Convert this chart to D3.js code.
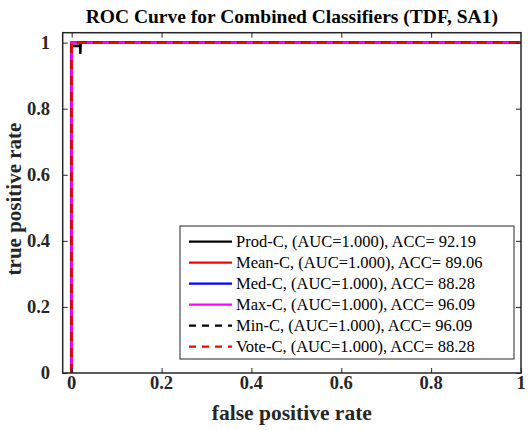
<!DOCTYPE html>
<html>
<head>
<meta charset="utf-8">
<script src="https://cdn.jsdelivr.net/npm/d3@7"></script>
<style>
  body { margin: 0; background: #fff; }
  text { font-family: "Liberation Serif", "Times New Roman", serif; fill: #262626; }
</style>
</head>
<body>
<div id="chart"></div>
<script>

// classifiers and their scores
var names = ["Prod-C", "Mean-C", "Med-C", "Max-C", "Min-C", "Vote-C"];
var aucs = [1.000, 1.000, 1.000, 1.000, 1.000, 1.000];
var accs = [92.19, 89.06, 88.28, 96.09, 96.09, 88.28];

// roc points
var fprProd = [0, 0, 0.019, 0.019, 0.02, 1];
var tprProd = [0, 0.99, 0.99, 0.966, 1, 1];
var fprOther = [0, 0, 1];
var tprOther = [0, 1, 1];

var xTicks = [0, 0.2, 0.4, 0.6, 0.8, 1];
var yTicks = [0, 0.2, 0.4, 0.6, 0.8, 1];

var colors = ["#000000", "#ff0000", "#0000ff", "#ff00ff", "#000000", "#ff0000"];
var dashed = [false, false, false, false, true, true];

(function() {

var width = 528, height = 430;
var pl = 62.7, pr = 521, pt = 32.7, pb = 373;

var svg = d3.select("#chart").append("svg")
	.attr("width", width)
	.attr("height", height);

var x = d3.scaleLinear().domain([-0.02, 1]).range([pl, pr]);
var y = d3.scaleLinear().domain([0, 1.03]).range([pb, pt]);

var fmt = function(d) { return d === 0 ? "0" : d === 1 ? "1" : d3.format(".1f")(d); };

// curves
var line = d3.line()
	.x(function(d) { return x(d[0]); })
	.y(function(d) { return y(d[1]); });

var curves = names.map(function(n, i) {
	var fx = i === 0 ? fprProd : fprOther;
	var ty = i === 0 ? tprProd : tprOther;
	return fx.map(function(v, j) { return [v, ty[j]]; });
});

svg.append("g")
	.selectAll("path")
	.data(curves)
	.enter()
	.append("path")
	.attr("d", line)
	.attr("fill", "none")
	.attr("stroke", function(d, i) { return colors[i]; })
	.attr("stroke-width", 2.6)
	.attr("stroke-dasharray", function(d, i) { return dashed[i] ? "9,7" : null; });

// axes (inward ticks on all four sides)
var tl = 5;
var noDomain = function(g) { g.select(".domain").remove(); };
svg.append("g")
	.attr("transform", "translate(0," + pb + ")")
	.call(d3.axisBottom(x).tickValues(xTicks).tickSize(-tl).tickFormat(""))
	.call(noDomain);
svg.append("g")
	.attr("transform", "translate(0," + pt + ")")
	.call(d3.axisTop(x).tickValues(xTicks.slice(0, 5)).tickSize(-tl).tickFormat(""))
	.call(noDomain);
svg.append("g")
	.attr("transform", "translate(" + pl + ",0)")
	.call(d3.axisLeft(y).tickValues(yTicks).tickSize(-tl).tickFormat(""))
	.call(noDomain);
svg.append("g")
	.attr("transform", "translate(" + pr + ",0)")
	.call(d3.axisRight(y).tickValues(yTicks).tickSize(-tl).tickFormat(""))
	.call(noDomain);
svg.selectAll(".tick line").attr("stroke", "#262626").attr("stroke-width", 1);

svg.append("rect")
	.attr("x", pl).attr("y", pt)
	.attr("width", pr - pl).attr("height", pb - pt)
	.attr("fill", "none")
	.attr("stroke", "#262626")
	.attr("stroke-width", 1.5);

// tick labels
svg.append("g").selectAll("text")
	.data(xTicks).enter().append("text")
	.attr("x", function(d) { return x(d); })
	.attr("y", 388.5)
	.attr("text-anchor", "middle")
	.style("font-size", "18.5px").style("font-weight", "bold")
	.text(fmt);

svg.append("g").selectAll("text")
	.data(yTicks).enter().append("text")
	.attr("x", 50)
	.attr("y", function(d) { return y(d) + 6; })
	.attr("text-anchor", "end")
	.style("font-size", "18.5px").style("font-weight", "bold")
	.text(fmt);

// titles
svg.append("text")
	.attr("x", (pl + pr) / 2).attr("y", 23)
	.attr("text-anchor", "middle")
	.style("font-size", "19.5px").style("font-weight", "bold")
	.style("fill", "#000")
	.text("ROC Curve for Combined Classifiers (TDF, SA1)");

svg.append("text")
	.attr("x", (pl + pr) / 2).attr("y", 420)
	.attr("text-anchor", "middle")
	.style("font-size", "21.5px").style("font-weight", "bold")
	.text("false positive rate");

svg.append("text")
	.attr("transform", "translate(21," + 199 + ") rotate(-90)")
	.attr("text-anchor", "middle")
	.style("font-size", "21px").style("font-weight", "bold")
	.text("true positive rate");

// legend
var lg = svg.append("g");
lg.append("rect")
	.attr("x", 180).attr("y", 226)
	.attr("width", 334).attr("height", 133)
	.attr("fill", "#fff")
	.attr("stroke", "#262626")
	.attr("stroke-width", 1);

var rows = lg.selectAll("g.row")
	.data(names).enter().append("g")
	.attr("transform", function(d, i) { return "translate(0," + (241.7 + i * 21) + ")"; });

rows.append("line")
	.attr("x1", 189).attr("x2", 232)
	.attr("stroke", function(d, i) { return colors[i]; })
	.attr("stroke-width", 2.2)
	.attr("stroke-dasharray", function(d, i) { return dashed[i] ? "7,6" : null; });

rows.append("text")
	.attr("x", 236).attr("y", 5.5)
	.style("font-size", "16.5px")
	.style("fill", "#000")
	.text(function(d, i) {
		return d + ", (AUC=" + aucs[i].toFixed(3) + "), ACC= " + accs[i].toFixed(2);
	});

})();

</script>
</body>
</html>
